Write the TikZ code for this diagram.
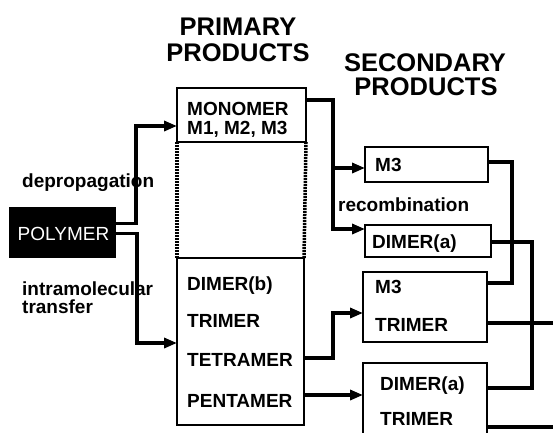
\documentclass[tikz,border=0pt]{standalone}
\usepackage{fontspec}
\setmainfont{Liberation Sans}
\usetikzlibrary{arrows.meta}
\begin{document}
\begin{tikzpicture}[x=1pt,y=-1pt,
  box/.style={draw, line width=2pt, inner sep=0pt, outer sep=0pt, anchor=north west},
  txt/.style={inner sep=0pt, anchor=base west, font=\fontsize{19}{19}\selectfont\bfseries},
  head/.style={inner sep=0pt, anchor=base, font=\fontsize{25.5}{25.5}\selectfont\bfseries},
  conn/.style={line width=3.5pt},
  arr/.style={line width=3.5pt, -{Triangle[length=13pt,width=10pt]}},
  dots/.style={line width=3.5pt, dash pattern=on 2pt off 1pt}]
\useasboundingbox (0,0) rectangle (553,432);
\clip (0,0) rectangle (553,432);
\fill[white] (0,0) rectangle (553,432);

% boxes
\node[box, fill=black, minimum width=105pt, minimum height=49pt] (poly) at (10,208) {};
\node[box, minimum width=129pt, minimum height=54pt] (mono) at (177,88) {};
\node[box, minimum width=127pt, minimum height=167pt] (prim) at (177,258) {};
\node[box, minimum width=123pt, minimum height=35pt] (m3a) at (365,147) {};
\node[box, minimum width=126pt, minimum height=32pt] (dima) at (365,225) {};
\node[box, minimum width=124pt, minimum height=70pt] (m3t) at (363,272) {};
\node[box, minimum width=124pt, minimum height=82pt] (dimt) at (363,363) {};

% headers
\node[head] (hp1) at (238,35) {PRIMARY};
\node[head] (hp2) at (238,61) {PRODUCTS};
\node[head] (hs1) at (425,71.5) {SECONDARY};
\node[head] (hs2) at (426,95) {PRODUCTS};

% texts
\node[inner sep=0pt, anchor=base, text=white, font=\fontsize{19}{19}\selectfont] (tpoly) at (63.5,240) {POLYMER};
\node[txt] (tdep) at (22,187.3) {depropagation};
\node[txt] (tintra) at (22,295) {intramolecular};
\node[txt] (ttrans) at (22,313.3) {transfer};
\node[txt] (trec) at (338,211.5) {recombination};

\node[txt] (tmono) at (187,115) {MONOMER};
\node[txt] (tm123) at (187,134.5) {M1, M2, M3};
\node[txt] (tdb) at (187,290) {DIMER(b)};
\node[txt] (ttri) at (187,327) {TRIMER};
\node[txt] (ttet) at (187,366) {TETRAMER};
\node[txt] (tpen) at (187,407.5) {PENTAMER};

\node[txt] (tm3a) at (375,171) {M3};
\node[txt] (tdima) at (372,248) {DIMER(a)};
\node[txt] (tm3t) at (375,293) {M3};
\node[txt] (ttrit) at (375,331.7) {TRIMER};
\node[txt] (tdimt) at (380,390) {DIMER(a)};
\node[txt] (ttrid) at (380,425) {TRIMER};

% dotted sides
\draw[dots] (mono.south west) -- (prim.north west);
\draw[dots] (mono.south east) -- (prim.north east);

% connectors
\draw[arr] ([yshift=9pt]poly.east) -- ++(21,0) |- ([yshift=-11pt]mono.west);
\draw[arr] ([yshift=-1pt]poly.east) -- ++(22,0) |- ([yshift=-1.5pt]prim.west);

\coordinate (m3ain) at ([yshift=-3.5pt]m3a.west);
\draw[arr] ([yshift=15pt]mono.east) -- ++(27,0) coordinate (mj) |- ([yshift=12pt]dima.west);
\draw[arr] (mj |- m3ain) -- (m3ain);

\draw[arr] ([yshift=-16.5pt]prim.east) -- ++(29,0) |- ([yshift=-6pt]m3t.west);
\coordinate (pe) at ([yshift=-53.5pt]prim.east);
\draw[arr] (pe) -- (pe -| dimt.west);

\draw[conn] ([yshift=2.5pt]m3a.east) -- ++(24,0) |- ([yshift=24pt]m3t.east);
\draw[conn] ([yshift=-1pt]dima.east) -- ++(41,0) |- ([yshift=16pt]dimt.east);

\coordinate (edge) at (553,0);
\coordinate (o1) at ([yshift=-16pt]m3t.east);
\coordinate (o2) at ([yshift=-23pt]dimt.east);
\draw[conn] (o1) -- (o1 -| edge);
\draw[conn] (o2) -- (o2 -| edge);
\end{tikzpicture}
\end{document}
